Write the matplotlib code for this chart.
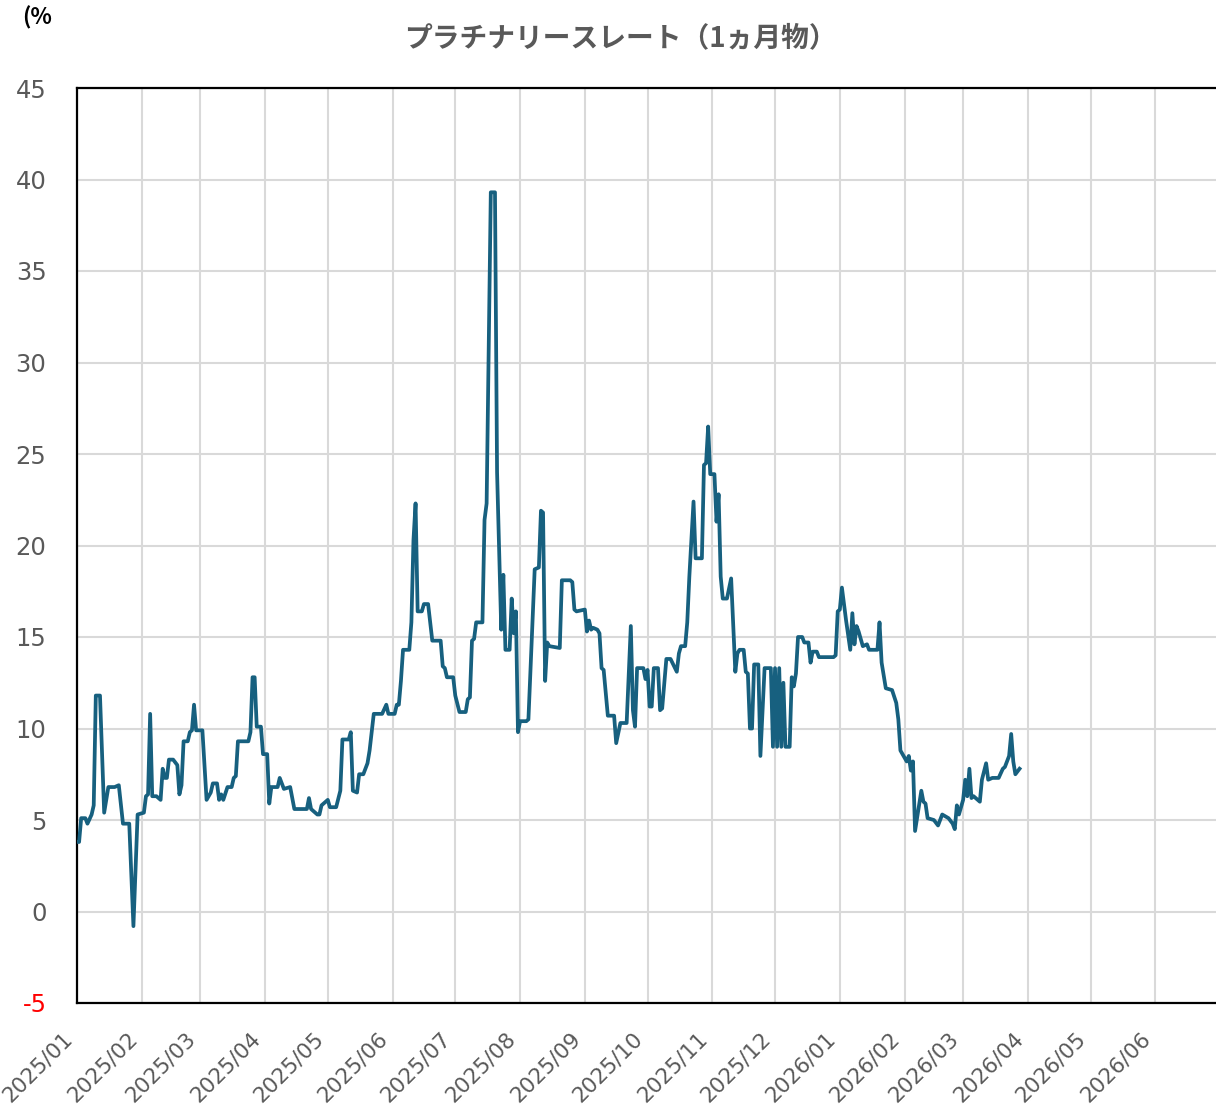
import matplotlib
matplotlib.use("Agg")
import matplotlib.pyplot as plt
import matplotlib.transforms as mtransforms
import pandas as pd

title = "プラチナリースレート（1ヵ月物）"
unit_label = "(%"

dates = [
    "2025-01-01", "2025-01-02", "2025-01-03", "2025-01-05", "2025-01-06", "2025-01-08", "2025-01-09",
    "2025-01-10", "2025-01-12", "2025-01-14", "2025-01-16", "2025-01-19", "2025-01-21", "2025-01-23",
    "2025-01-26", "2025-01-28", "2025-01-30", "2025-02-02", "2025-02-03", "2025-02-04", "2025-02-05",
    "2025-02-06", "2025-02-08", "2025-02-10", "2025-02-11", "2025-02-12", "2025-02-13", "2025-02-14",
    "2025-02-16", "2025-02-18", "2025-02-19", "2025-02-20", "2025-02-21", "2025-02-23", "2025-02-24",
    "2025-02-25", "2025-02-26", "2025-02-27", "2025-03-02", "2025-03-04", "2025-03-06", "2025-03-07",
    "2025-03-09", "2025-03-10", "2025-03-11", "2025-03-12", "2025-03-14", "2025-03-16", "2025-03-17",
    "2025-03-18", "2025-03-19", "2025-03-24", "2025-03-25", "2025-03-26", "2025-03-27", "2025-03-28",
    "2025-03-30", "2025-03-31", "2025-04-02", "2025-04-03", "2025-04-04", "2025-04-07", "2025-04-08",
    "2025-04-10", "2025-04-13", "2025-04-15", "2025-04-21", "2025-04-22", "2025-04-23", "2025-04-24",
    "2025-04-26", "2025-04-27", "2025-04-28", "2025-05-01", "2025-05-02", "2025-05-05", "2025-05-07",
    "2025-05-08", "2025-05-11", "2025-05-12", "2025-05-13", "2025-05-15", "2025-05-16", "2025-05-18",
    "2025-05-20", "2025-05-21", "2025-05-23", "2025-05-27", "2025-05-29", "2025-05-30", "2025-06-02",
    "2025-06-03", "2025-06-04", "2025-06-05", "2025-06-06", "2025-06-09", "2025-06-10", "2025-06-11",
    "2025-06-12", "2025-06-13", "2025-06-15", "2025-06-16", "2025-06-18", "2025-06-19", "2025-06-20",
    "2025-06-24", "2025-06-25", "2025-06-26", "2025-06-27", "2025-06-30", "2025-07-01", "2025-07-03",
    "2025-07-06", "2025-07-07", "2025-07-08", "2025-07-09", "2025-07-10", "2025-07-11", "2025-07-14",
    "2025-07-15", "2025-07-16", "2025-07-18", "2025-07-20", "2025-07-21", "2025-07-23", "2025-07-24",
    "2025-07-25", "2025-07-27", "2025-07-28", "2025-07-29", "2025-07-30", "2025-07-31", "2025-08-01",
    "2025-08-04", "2025-08-05", "2025-08-08", "2025-08-10", "2025-08-11", "2025-08-12", "2025-08-13",
    "2025-08-14", "2025-08-15", "2025-08-20", "2025-08-21", "2025-08-25", "2025-08-26", "2025-08-27",
    "2025-08-28", "2025-09-01", "2025-09-02", "2025-09-03", "2025-09-04", "2025-09-05", "2025-09-07",
    "2025-09-08", "2025-09-09", "2025-09-10", "2025-09-12", "2025-09-15", "2025-09-16", "2025-09-18",
    "2025-09-21", "2025-09-23", "2025-09-24", "2025-09-25", "2025-09-26", "2025-09-29", "2025-09-30",
    "2025-10-01", "2025-10-02", "2025-10-03", "2025-10-04", "2025-10-06", "2025-10-07", "2025-10-08",
    "2025-10-10", "2025-10-12", "2025-10-15", "2025-10-16", "2025-10-17", "2025-10-19", "2025-10-20",
    "2025-10-21", "2025-10-23", "2025-10-24", "2025-10-27", "2025-10-28", "2025-10-29", "2025-10-30",
    "2025-10-31", "2025-11-02", "2025-11-03", "2025-11-04", "2025-11-05", "2025-11-06", "2025-11-08",
    "2025-11-10", "2025-11-11", "2025-11-12", "2025-11-13", "2025-11-14", "2025-11-16", "2025-11-17",
    "2025-11-18", "2025-11-19", "2025-11-20", "2025-11-21", "2025-11-23", "2025-11-24", "2025-11-26",
    "2025-11-29", "2025-11-30", "2025-12-01", "2025-12-02", "2025-12-03", "2025-12-04", "2025-12-05",
    "2025-12-06", "2025-12-08", "2025-12-09", "2025-12-10", "2025-12-11", "2025-12-12", "2025-12-14",
    "2025-12-15", "2025-12-17", "2025-12-18", "2025-12-19", "2025-12-21", "2025-12-22", "2025-12-29",
    "2025-12-30", "2025-12-31", "2026-01-01", "2026-01-02", "2026-01-04", "2026-01-06", "2026-01-07",
    "2026-01-08", "2026-01-09", "2026-01-10", "2026-01-12", "2026-01-14", "2026-01-15", "2026-01-19",
    "2026-01-20", "2026-01-21", "2026-01-23", "2026-01-26", "2026-01-28", "2026-01-29", "2026-01-30",
    "2026-02-01", "2026-02-02", "2026-02-03", "2026-02-04", "2026-02-05", "2026-02-06", "2026-02-09",
    "2026-02-10", "2026-02-11", "2026-02-12", "2026-02-15", "2026-02-17", "2026-02-19", "2026-02-22",
    "2026-02-24", "2026-02-25", "2026-02-26", "2026-02-27", "2026-03-01", "2026-03-02", "2026-03-03",
    "2026-03-04", "2026-03-05", "2026-03-06", "2026-03-09", "2026-03-10", "2026-03-12", "2026-03-13",
    "2026-03-15", "2026-03-18", "2026-03-20", "2026-03-21", "2026-03-23", "2026-03-24", "2026-03-25",
    "2026-03-26", "2026-03-28",
]

rates = [
    3.8, 3.8, 5.1, 5.1, 4.8, 5.3, 5.8,
    11.8, 11.8, 5.4, 6.8, 6.8, 6.9, 4.8,
    4.8, -0.8, 5.3, 5.4, 6.3, 6.4, 10.8,
    6.3, 6.3, 6.1, 7.8, 7.3, 7.3, 8.3,
    8.3, 8.0, 6.4, 6.9, 9.3, 9.3, 9.8,
    9.9, 11.3, 9.9, 9.9, 6.1, 6.5, 7.0,
    7.0, 6.1, 6.4, 6.1, 6.8, 6.8, 7.3,
    7.4, 9.3, 9.3, 9.8, 12.8, 12.8, 10.1,
    10.1, 8.6, 8.6, 5.9, 6.8, 6.8, 7.3,
    6.7, 6.8, 5.6, 5.6, 6.2, 5.6, 5.5,
    5.3, 5.3, 5.8, 6.1, 5.7, 5.7, 6.6,
    9.4, 9.4, 9.8, 6.6, 6.5, 7.5, 7.5,
    8.1, 8.8, 10.8, 10.8, 11.3, 10.8, 10.8,
    11.3, 11.3, 12.6, 14.3, 14.3, 15.8, 20.3,
    22.3, 16.4, 16.4, 16.8, 16.8, 15.8, 14.8,
    14.8, 13.4, 13.3, 12.8, 12.8, 11.8, 10.9,
    10.9, 11.6, 11.7, 14.8, 14.9, 15.8, 15.8,
    21.4, 22.3, 39.3, 39.3, 24.0, 15.4, 18.4,
    14.3, 14.3, 17.1, 15.2, 16.4, 9.8, 10.4,
    10.4, 10.5, 18.7, 18.8, 21.9, 21.8, 12.6,
    14.7, 14.5, 14.4, 18.1, 18.1, 18.0, 16.5,
    16.4, 16.5, 15.3, 15.9, 15.4, 15.5, 15.4,
    15.2, 13.3, 13.2, 10.7, 10.7, 9.2, 10.3,
    10.3, 15.6, 11.0, 10.1, 13.3, 13.3, 12.7,
    13.2, 11.2, 11.2, 13.3, 13.3, 11.0, 11.1,
    13.8, 13.8, 13.1, 14.1, 14.5, 14.5, 15.8,
    18.3, 22.4, 19.3, 19.3, 24.4, 24.5, 26.5,
    23.9, 23.9, 21.3, 22.8, 18.3, 17.1, 17.1,
    18.2, 15.6, 13.1, 14.1, 14.3, 14.3, 13.1,
    13.0, 10.0, 10.0, 13.5, 13.5, 8.5, 13.3,
    13.3, 9.0, 13.3, 9.0, 13.3, 9.0, 12.5,
    9.0, 9.0, 12.8, 12.3, 13.0, 15.0, 15.0,
    14.7, 14.7, 13.6, 14.2, 14.2, 13.9, 13.9,
    14.0, 16.4, 16.5, 17.7, 15.9, 14.3, 16.3,
    14.6, 15.6, 15.3, 14.5, 14.6, 14.3, 14.3,
    15.8, 13.6, 12.2, 12.1, 11.4, 10.5, 8.8,
    8.4, 8.2, 8.5, 7.7, 8.2, 4.4, 6.6,
    6.0, 5.9, 5.1, 5.0, 4.7, 5.3, 5.1,
    4.8, 4.5, 5.8, 5.3, 6.1, 7.2, 6.3,
    7.8, 6.2, 6.3, 6.0, 7.2, 8.1, 7.2,
    7.3, 7.3, 7.8, 7.9, 8.5, 9.7, 8.2,
    7.5, 7.8,
]

month_ticks = pd.date_range("2025-01-01", "2026-06-01", freq="MS")
month_labels = [d.strftime("%Y/%m") for d in month_ticks]
y_ticks = list(range(-5, 50, 5))

line_color = "#17607F"
grid_color = "#D9D9D9"
text_gray = "#595959"

fig = plt.figure(figsize=(12.16, 11.17), dpi=100)
ax = fig.add_axes([77 / 1216, 1 - 1003 / 1117, 1 - 77 / 1216, (1003 - 88) / 1117])

ax.plot(pd.to_datetime(dates), rates, color=line_color, lw=2.7, solid_joinstyle="round", zorder=3)

ax.set_xlim(pd.Timestamp("2025-01-01"), pd.Timestamp("2026-06-30"))
ax.set_ylim(-5, 45)
ax.set_yticks(y_ticks)
ax.set_yticklabels([str(v) for v in y_ticks], fontsize=17.5, color=text_gray, family="DejaVu Sans")
for lbl, v in zip(ax.get_yticklabels(), y_ticks):
    if v < 0:
        lbl.set_color("red")
ax.set_xticks(month_ticks)
ax.set_xticklabels(month_labels, rotation=45, ha="right", rotation_mode="anchor",
                   fontsize=15.5, color=text_gray, family="DejaVu Sans")
ax.tick_params(axis="y", length=0, pad=22)
ax.tick_params(axis="x", length=0, pad=21)
shift = mtransforms.ScaledTranslation(-0.15, 0.04, fig.dpi_scale_trans)
for lbl in ax.get_xticklabels():
    lbl.set_transform(lbl.get_transform() + shift)

ax.grid(True, color=grid_color, lw=1.5, zorder=0)
ax.set_axisbelow(True)
for side in ["left", "bottom", "top"]:
    ax.spines[side].set_color("black")
    ax.spines[side].set_linewidth(1.6)
ax.spines["right"].set_visible(False)

fig.text(620 / 1216, 1 - 38 / 1117, title, ha="center", va="center", fontsize=20,
         fontweight="bold", color=text_gray, family=["Noto Sans CJK JP", "DejaVu Sans"])
fig.text(22 / 1216, 1 - 18 / 1117, unit_label, ha="left", va="center", fontsize=16,
         fontweight="bold", color="black", family=["Noto Sans CJK JP", "DejaVu Sans"])

fig.savefig("out.png", dpi=100)
